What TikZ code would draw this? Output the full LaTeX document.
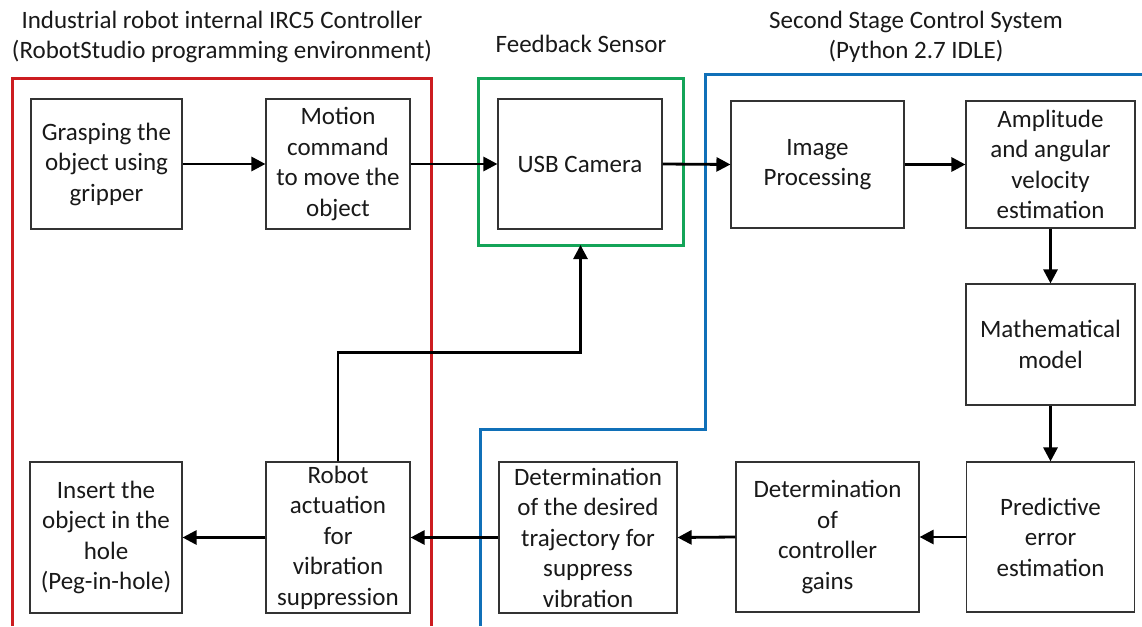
\documentclass[tikz,border=0pt]{standalone}
\usepackage{fontspec}
\setmainfont{Carlito}
\usetikzlibrary{arrows.meta}

\definecolor{ctrlred}{RGB}{204,28,32}
\definecolor{sensgreen}{RGB}{20,164,88}
\definecolor{pyblue}{RGB}{16,112,184}
\definecolor{inkgray}{RGB}{25,25,25}

\begin{document}
\begin{tikzpicture}[
  x=1pt, y=-1pt,
  txt/.style={font=\fontsize{25}{30.5}\selectfont, text=inkgray, align=center, inner sep=0pt},
  blk/.style={txt, draw=black!80, line width=1.1pt, fill=white},
  grp/.style={line width=3pt},
  flow/.style={line width=2.8pt, -{Triangle[length=14pt,width=14pt]}}
]
\useasboundingbox (0,0) rectangle (1142,626);

% group frames
\draw[grp, ctrlred] (12,626) -- (12,78) -- (431,78) -- (431,626);
\draw[grp, sensgreen] (478,78) rectangle (683,245);
\coordinate (sensor) at (580.5,245);
\draw[grp, pyblue] (480,626) -- (480,429) -- (705,429) -- (705,74) -- (1142,74);

% group titles
\node[txt] (t1) at (222,37) {Industrial robot internal IRC5 Controller\\(RobotStudio programming environment)};
\node[txt] (t2) at (581,44) {Feedback Sensor};
\node[txt] (t3) at (916,37) {Second Stage Control System\\(Python 2.7 IDLE)};

% processing blocks, top row
\node[blk, minimum width=151pt, minimum height=130pt] (grasp)  at (106.5,164) {Grasping the\\object using\\gripper};
\node[blk, minimum width=144pt, minimum height=130pt] (motion) at (338,164)   {Motion\\command\\to move the\\object};
\node[blk, minimum width=164pt, minimum height=130pt] (usb)    at (580,164)   {USB Camera};
\node[blk, minimum width=173pt, minimum height=127pt] (image)  at (817.5,164.5) {Image\\Processing};
\node[blk, minimum width=169pt, minimum height=127pt] (ampl)   at (1050.5,164.5) {Amplitude\\and angular\\velocity\\estimation};

% right column
\node[blk, minimum width=169pt, minimum height=121pt] (math)   at (1050.5,344.5) {Mathematical\\model};

% bottom row
\node[blk, minimum width=168pt, minimum height=150pt] (pred)   at (1050.5,537) {Predictive\\error\\estimation};
\node[blk, minimum width=183pt, minimum height=150pt] (gains)  at (827.5,537)  {Determination\\of\\controller\\gains};
\node[blk, minimum width=178pt, minimum height=151pt] (traj)   at (588,537.5)  {Determination\\of the desired\\trajectory for\\suppress\\vibration};
\node[blk, minimum width=144pt, minimum height=151pt] (robot)  at (338,537.5)  {Robot\\actuation\\for\\vibration\\suppression};
\node[blk, minimum width=152pt, minimum height=151pt] (insert) at (106,537.5)  {Insert the\\object in the\\hole\\(Peg-in-hole)};

% signal flow
\draw[flow] (grasp.east)  -- (motion.west);
\draw[flow] (motion.east) -- (usb.west);
\draw[flow] (usb.east)    -- (image.west);
\draw[flow] (image.east)  -- (ampl.west);
\draw[flow] (ampl.south)  -- (math.north);
\draw[flow] (math.south)  -- (pred.north);
\draw[flow] (pred.west)   -- (gains.east);
\draw[flow] (gains.west)  -- (traj.east);
\draw[flow] (traj.west)   -- (robot.east);
\draw[flow] (robot.west)  -- (insert.east);
\draw[flow] (robot.north) -- ++(0,-109) -| (sensor);
\end{tikzpicture}
\end{document}
